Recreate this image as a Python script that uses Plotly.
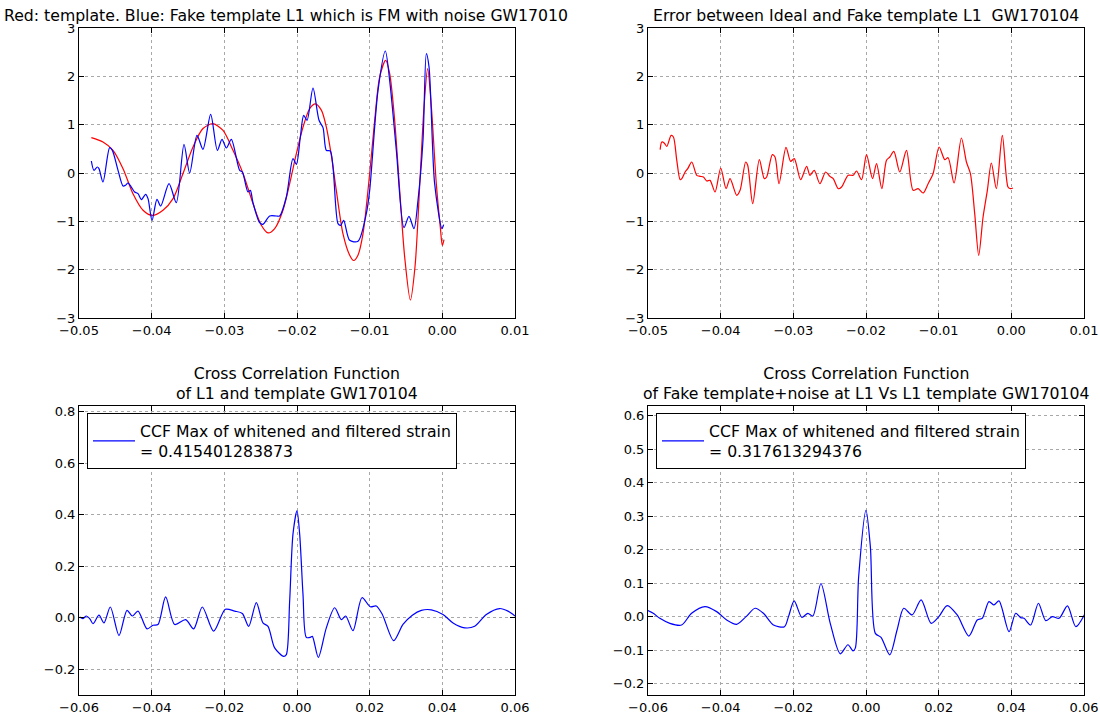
import plotly.graph_objects as go

# ---- Template vs fake template (seconds, whitened strain) ----
tmpl_t = [-0.04830, -0.04670, -0.04532, -0.04394, -0.04257, -0.04119, -0.03991, -0.03844,
          -0.03706, -0.03569, -0.03431, -0.03294, -0.03156, -0.03018, -0.02881, -0.02743,
          -0.02606, -0.02491, -0.02399, -0.02307, -0.02193, -0.02101, -0.02009, -0.01917,
          -0.01826, -0.01748, -0.01665, -0.01596, -0.01528, -0.01459, -0.01367, -0.01275,
          -0.01220, -0.01161, -0.01092, -0.01000, -0.00931, -0.00862, -0.00780, -0.00725,
          -0.00656, -0.00587, -0.00518, -0.00440, -0.00376, -0.00303, -0.00252, -0.00202,
          -0.00151, -0.00083, -0.00028, 0.00000, 0.00023]
tmpl_v = [0.731, 0.641, 0.47, 0.09, -0.43, -0.77, -0.876, -0.77,
          -0.53, -0.01, 0.54, 0.92, 1.02, 0.88, 0.47, -0.01,
          -0.63, -1.08, -1.24, -1.15, -0.77, -0.22, 0.40, 0.95,
          1.33, 1.43, 1.30, 0.95, 0.37, -0.36, -1.26, -1.70,
          -1.81, -1.70, -1.26, -0.01, 1.09, 1.99, 2.33, 2.06,
          1.09, -0.36, -1.74, -2.63, -1.94, -0.01, 1.37, 2.16,
          1.37, -0.22, -1.12, -1.50, -1.38]

fake_t = [-0.04830, -0.04794, -0.04748, -0.04725, -0.04670, -0.04578, -0.04541, -0.04463,
          -0.04394, -0.04362, -0.04326, -0.04280, -0.04234, -0.04188, -0.04142, -0.04083,
          -0.04050, -0.03995, -0.03927, -0.03876, -0.03761, -0.03661, -0.03555, -0.03477,
          -0.03376, -0.03294, -0.03188, -0.03096, -0.03032, -0.02972, -0.02904, -0.02789,
          -0.02752, -0.02674, -0.02642, -0.02606, -0.02514, -0.02468, -0.02376, -0.02284,
          -0.02239, -0.02147, -0.02055, -0.02009, -0.01954, -0.01908, -0.01862, -0.01780,
          -0.01697, -0.01642, -0.01596, -0.01541, -0.01436, -0.01399, -0.01358, -0.01275,
          -0.01161, -0.01046, -0.01000, -0.00885, -0.00784, -0.00725, -0.00633, -0.00528,
          -0.00459, -0.00390, -0.00335, -0.00266, -0.00220, -0.00183, -0.00106, -0.00005,
          0.00018]
fake_v = [0.248, 0.055, 0.124, 0.09, -0.186, 0.524, 0.469, 0.055,
          -0.269, -0.255, -0.207, -0.29, -0.393, -0.428, -0.552, -0.441,
          -0.531, -0.979, -0.545, -0.683, -0.221, -0.614, 0.593, 0.0,
          0.779, 0.49, 1.214, 0.469, 0.697, 0.517, 0.697, 0.055,
          0.021, -0.393, -0.359, -0.614, -1.028, -1.062, -0.89, -0.89,
          -0.89, -0.497, 0.297, 0.179, 0.745, 1.193, 1.090, 1.759,
          1.090, 0.938, 0.469, 0.455, -1.048, -1.083, -0.979, -1.393,
          -1.414, -0.841, -0.359, 1.710, 2.524, 1.917, 0.469, -1.131,
          -0.897, -1.152, -0.566, 0.676, 2.469, 2.193, -0.221, -1.152,
          -1.069]

# ---- Error between ideal and fake template ----
err_t = [-0.04833, -0.04810, -0.04778, -0.04741, -0.04682, -0.04650, -0.04604, -0.04558,
         -0.04535, -0.04489, -0.04453, -0.04398, -0.04329, -0.04283, -0.04237, -0.04191,
         -0.04146, -0.04077, -0.03999, -0.03926, -0.03871, -0.03779, -0.03733, -0.03656,
         -0.03628, -0.03559, -0.03468, -0.03399, -0.03367, -0.03289, -0.03252, -0.03197,
         -0.03101, -0.03037, -0.02987, -0.02900, -0.02817, -0.02771, -0.02712, -0.02634,
         -0.02556, -0.02497, -0.02451, -0.02382, -0.02336, -0.02245, -0.02176, -0.02130,
         -0.02061, -0.01993, -0.01910, -0.01855, -0.01782, -0.01718, -0.01672, -0.01617,
         -0.01535, -0.01443, -0.01351, -0.01283, -0.01214, -0.01145, -0.01077, -0.00994,
         -0.00916, -0.00870, -0.00788, -0.00687, -0.00618, -0.00563, -0.00504, -0.00449,
         -0.00389, -0.00330, -0.00275, -0.00206, -0.00124, -0.00046, -0.00014, 0.00023]
err_v = [0.483, 0.641, 0.621, 0.552, 0.779, 0.745, 0.262, -0.138,
         -0.117, 0.021, 0.090, 0.228, -0.048, -0.069, -0.083, -0.166,
         -0.152, -0.393, 0.103, -0.324, -0.117, -0.462, -0.359, 0.228,
         0.159, -0.634, 0.276, -0.117, -0.083, 0.379, 0.331, -0.221,
         0.531, 0.241, 0.297, -0.138, 0.138, -0.048, 0.055, -0.221,
         0.021, -0.069, -0.117, -0.324, -0.290, -0.048, -0.048, 0.041,
         -0.138, 0.379, -0.117, 0.193, -0.324, 0.262, 0.331, 0.448,
         0.021, 0.469, -0.359, -0.324, -0.414, -0.221, -0.014, 0.538,
         0.276, 0.317, -0.207, 0.724, 0.228, -0.014, -0.841, -1.703,
         -0.910, -0.359, 0.207, -0.324, 0.779, -0.290, -0.324, -0.310]

# ---- Cross correlation: L1 data vs template ----
ccf_max_l1 = 0.415401283873
ccf_l1_lag = [-0.05982, -0.05890, -0.05798, -0.05706, -0.05615, -0.05450, -0.05312, -0.05138,
              -0.04899, -0.04679, -0.04532, -0.04376, -0.04128, -0.03963, -0.03826, -0.03615,
              -0.03367, -0.03064, -0.02844, -0.02606, -0.02294, -0.01972, -0.01716, -0.01505,
              -0.01330, -0.01119, -0.00936, -0.00798, -0.00615, -0.00367, -0.00294, -0.00202,
              -0.00110, 0.0, 0.00073, 0.00165, 0.00257, 0.00367, 0.00422, 0.00587,
              0.00807, 0.01037, 0.01220, 0.01339, 0.01541, 0.01789, 0.02018, 0.02183,
              0.02349, 0.02661, 0.02917, 0.03174, 0.03422, 0.03697, 0.04018, 0.04294,
              0.04615, 0.04890, 0.05211, 0.05578, 0.05807, 0.06000]
ccf_l1_val = [0.003, -0.003, 0.007, -0.003, -0.023, 0.010, -0.020, 0.042,
              -0.069, 0.029, 0.007, 0.026, -0.043, -0.029, -0.026, 0.081,
              -0.026, -0.007, -0.043, 0.042, -0.052, 0.033, 0.026, 0.017,
              -0.033, 0.059, -0.020, -0.033, -0.117, -0.150, -0.143, 0.065,
              0.326, ccf_max_l1, 0.326, 0.091, -0.076, -0.076, -0.072, -0.154,
              -0.039, 0.039, -0.007, 0.007, -0.050, 0.078, 0.043, 0.046,
              0.013, -0.089, -0.026, 0.010, 0.029, 0.031, 0.013, -0.020,
              -0.039, -0.033, 0.013, 0.036, 0.026, 0.007]

# ---- Cross correlation: fake template + noise vs L1 template ----
ccf_max_fake = 0.317613294376
ccf_fake_lag = [-0.06005, -0.05857, -0.05674, -0.05398, -0.05076, -0.04800, -0.04432, -0.04110,
                -0.03834, -0.03559, -0.03301, -0.03053, -0.02823, -0.02547, -0.02244, -0.02133,
                -0.01977, -0.01766, -0.01600, -0.01462, -0.01241, -0.00984, -0.00708, -0.00497,
                -0.00359, -0.00294, -0.00202, 0.0, 0.00120, 0.00257, 0.00414, 0.00653,
                0.00855, 0.01039, 0.01269, 0.01517, 0.01793, 0.02005, 0.02234, 0.02510,
                0.02832, 0.03062, 0.03200, 0.03384, 0.03522, 0.03660, 0.03936, 0.04120,
                0.04257, 0.04349, 0.04533, 0.04745, 0.04947, 0.05131, 0.05315, 0.05545,
                0.05775, 0.06032]
ccf_fake_val = [0.018, 0.010, -0.005, -0.020, -0.025, 0.010, 0.030, 0.015,
                -0.010, -0.023, 0.0, 0.025, 0.010, -0.025, -0.030, 0.0,
                0.047, -0.002, 0.010, 0.002, 0.099, -0.020, -0.111, -0.084,
                -0.102, -0.094, 0.119, ccf_max_fake, 0.209, -0.050, -0.062, -0.114,
                -0.040, 0.025, 0.005, 0.050, -0.020, 0.0, 0.033, 0.005,
                -0.058, -0.010, -0.005, 0.045, 0.035, 0.047, -0.045, 0.010,
                -0.003, -0.005, -0.025, 0.040, -0.012, 0.0, -0.005, 0.032,
                -0.030, 0.010]

BLUE = "#0000ff"
RED = "#ff0000"
FONT = "DejaVu Sans"

fig = go.Figure()


def curve(x, y, color, xa, ya, name=None, legend=None):
    return go.Scatter(x=x, y=y, mode="lines", name=name, legend=legend,
                      showlegend=name is not None,
                      line=dict(color=color, width=1.2, shape="spline", smoothing=0.8),
                      xaxis=xa, yaxis=ya)


fig.add_trace(curve(tmpl_t, tmpl_v, RED, "x", "y"))
fig.add_trace(curve(fake_t, fake_v, BLUE, "x", "y"))
fig.add_trace(curve(err_t, err_v, RED, "x2", "y2"))
fig.add_trace(curve(ccf_l1_lag, ccf_l1_val, BLUE, "x3", "y3",
                    name="CCF Max of whitened and filtered strain<br>= %s" % repr(ccf_max_l1),
                    legend="legend"))
fig.add_trace(curve(ccf_fake_lag, ccf_fake_val, BLUE, "x4", "y4",
                    name="CCF Max of whitened and filtered strain<br>= %s" % repr(ccf_max_fake),
                    legend="legend2"))

W, H = 1100, 718


def px_x(p):
    return p / W


def px_y(p):
    return 1 - p / H


axis_style = dict(showline=True, linecolor="black", linewidth=1, mirror="ticks",
                  ticks="inside", ticklen=5, tickcolor="black", tickwidth=1,
                  showgrid=True, gridcolor="#a8a8a8", griddash="dot", gridwidth=1,
                  zeroline=False, automargin=False,
                  tickfont=dict(family=FONT, size=13, color="black"))

left_dom = [px_x(79), px_x(515)]
right_dom = [px_x(648), px_x(1084)]
top_dom = [px_y(318), px_y(28)]
bot_dom = [px_y(695), px_y(406)]

legend_font = dict(family=FONT, size=15.7, color="black")
legend_common = dict(xanchor="left", yanchor="top", bgcolor="white",
                     bordercolor="black", borderwidth=1, itemwidth=42,
                     font=legend_font)

fig.update_layout(
    width=W, height=H,
    margin=dict(l=0, r=0, t=0, b=0),
    paper_bgcolor="white", plot_bgcolor="white",
    font=dict(family=FONT, size=13, color="black"),
    xaxis=dict(domain=left_dom, anchor="y", range=[-0.05, 0.01], dtick=0.01,
               tickformat=".2f", **axis_style),
    yaxis=dict(domain=top_dom, anchor="x", range=[-3, 3], dtick=1, **axis_style),
    xaxis2=dict(domain=right_dom, anchor="y2", range=[-0.05, 0.01], dtick=0.01,
                tickformat=".2f", **axis_style),
    yaxis2=dict(domain=top_dom, anchor="x2", range=[-3, 3], dtick=1, **axis_style),
    xaxis3=dict(domain=left_dom, anchor="y3", range=[-0.06, 0.06], dtick=0.02,
                tickformat=".2f", **axis_style),
    yaxis3=dict(domain=bot_dom, anchor="x3", range=[-0.30, 0.823], dtick=0.2,
                tick0=0, tickformat=".1f", **axis_style),
    xaxis4=dict(domain=right_dom, anchor="y4", range=[-0.06, 0.06], dtick=0.02,
                tickformat=".2f", **axis_style),
    yaxis4=dict(domain=bot_dom, anchor="x4", range=[-0.234, 0.629], dtick=0.1,
                tick0=0, tickformat=".1f", **axis_style),
    legend=dict(x=px_x(87), y=px_y(413), **legend_common),
    legend2=dict(x=px_x(656), y=px_y(413), **legend_common),
)

title_font = dict(family=FONT, size=15.7, color="black")
titles = [
    ("Red: template. Blue: Fake template L1 which is FM with noise GW17010",
     px_x(2), px_y(15), "left"),
    ("Error between Ideal and Fake template L1\u00a0 GW170104", px_x(866), px_y(15), "center"),
    ("Cross Correlation Function<br>of L1 and template GW170104", px_x(297), px_y(383), "center"),
    ("Cross Correlation Function<br>of Fake template+noise at L1 Vs L1 template GW170104",
     px_x(866), px_y(383), "center"),
]
for text, x, y, anchor in titles:
    fig.add_annotation(text=text, x=x, y=y, xref="paper", yref="paper",
                       xanchor=anchor, yanchor="middle", showarrow=False,
                       font=title_font, align="center")

fig.write_html("out.html")
